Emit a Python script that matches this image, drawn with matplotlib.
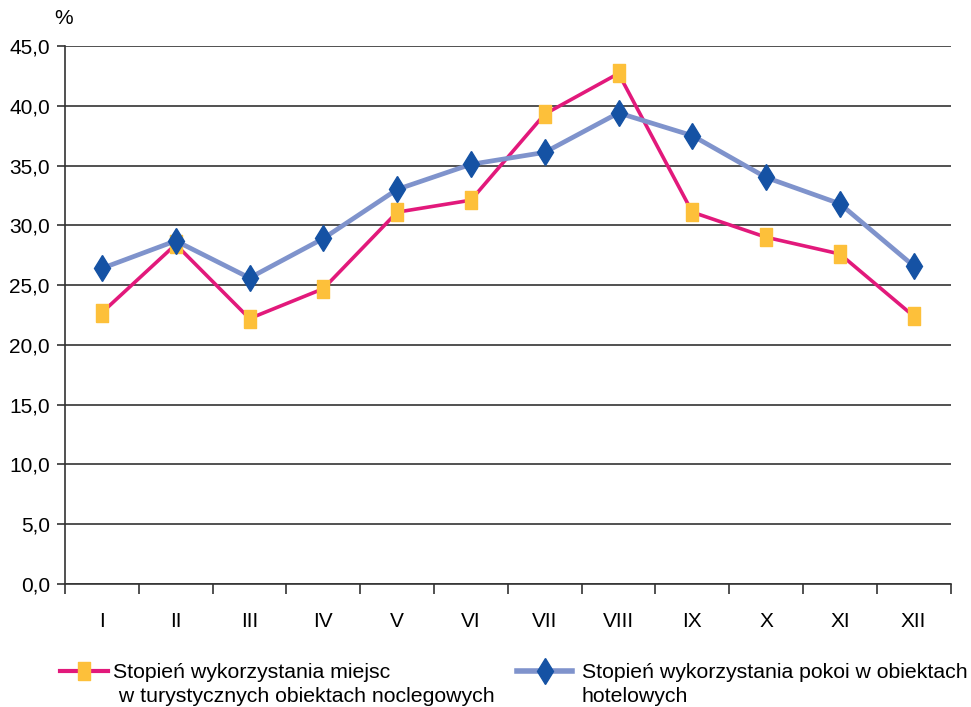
import matplotlib as mpl
import matplotlib.pyplot as plt
from matplotlib.lines import Line2D

import numpy as np

plt.rcParams['font.family'] = ['Liberation Sans', 'DejaVu Sans']

months = ["I", "II", "III", "IV", "V", "VI", "VII", "VIII", "IX", "X", "XI", "XII"]
miejsca = [22.7, 28.4, 22.2, 24.7, 31.1, 32.1, 39.3, 42.7, 31.1, 29.0, 27.6, 22.4]
pokoje = [26.4, 28.7, 25.6, 28.9, 33.0, 35.1, 36.1, 39.4, 37.5, 34.0, 31.8, 26.6]

label_miejsca = ["Stopień wykorzystania miejsc", " w turystycznych obiektach noclegowych"]
label_pokoje = ["Stopień wykorzystania pokoi w obiektach", "hotelowych"]

pink = "#E2197B"
yellow = "#FDC03A"
lblue = "#7F93CC"
dblue = "#1552A4"
fs = 15
lfs = 15.3

# tall rectangle marker
rect = [(-0.34, -0.5), (0.34, -0.5), (0.34, 0.5), (-0.34, 0.5), (-0.34, -0.5)]

fig = plt.figure(figsize=(9.71, 7.07), dpi=100)
ax = fig.add_axes([0.067, 0.174, 0.912, 0.761])

x = np.arange(len(months))
ax.plot(x, miejsca, color=pink, lw=2.6, marker=rect, ms=12.3,
        mfc=yellow, mec=yellow, zorder=3)
ax.plot(x, pokoje, color=lblue, lw=3.4, marker="d", ms=13,
        mfc=dblue, mec=dblue, zorder=4)

ax.set_xlim(-0.5, len(months) - 0.5)
ax.set_ylim(0, 45)
ax.set_yticks(np.arange(0, 46, 5))
ax.set_yticklabels([f"{v:.1f}".replace(".", ",") for v in np.arange(0, 46, 5)])
ax.set_xticks(np.arange(-0.5, len(months), 1))
ax.set_xticklabels([])
ax.set_xticks(x, minor=True)
ax.set_xticklabels(months, minor=True)
ax.tick_params(axis="x", which="minor", length=0, pad=20, labelsize=fs)
ax.tick_params(axis="x", which="major", length=7, width=1.2, color="#333333", direction="out")
ax.tick_params(axis="y", length=6, width=1.2, color="#333333", labelsize=fs, pad=5)

ax.grid(axis="y", color="#222222", lw=1.1)
ax.set_axisbelow(True)
for s in ["top", "right"]:
    ax.spines[s].set_visible(False)
for s in ["left", "bottom"]:
    ax.spines[s].set_color("#333333")
    ax.spines[s].set_linewidth(1.2)

fig.text(0.056, 0.96, "%", fontsize=fs, ha="left", va="bottom")

handles = [
    Line2D([], [], color=pink, lw=3, marker=rect, ms=12.3, mfc=yellow, mec=yellow),
    Line2D([], [], color=lblue, lw=4, marker="d", ms=13, mfc=dblue, mec=dblue),
]
inv = fig.transFigure.inverted()
for h, lab, x0, hl, hp in zip(handles, [label_miejsca, label_pokoje], [60, 517],
                              [2.25, 2.6], [0.25, 0.45]):
    leg = fig.legend([h], [lab[0]], loc="center left",
                     bbox_to_anchor=(x0 / 971, 1 - 673 / 707), frameon=False,
                     fontsize=lfs, handlelength=hl, handletextpad=hp,
                     borderaxespad=0, borderpad=0)
    # second line of the label, under the first one
    fig.canvas.draw()
    bb = leg.get_texts()[0].get_window_extent()
    tx, ty = inv.transform((bb.x0, bb.y0))
    fig.text(tx, ty - 0.007, lab[1], fontsize=lfs, ha="left", va="top")

fig.savefig("out.png", dpi=100)
